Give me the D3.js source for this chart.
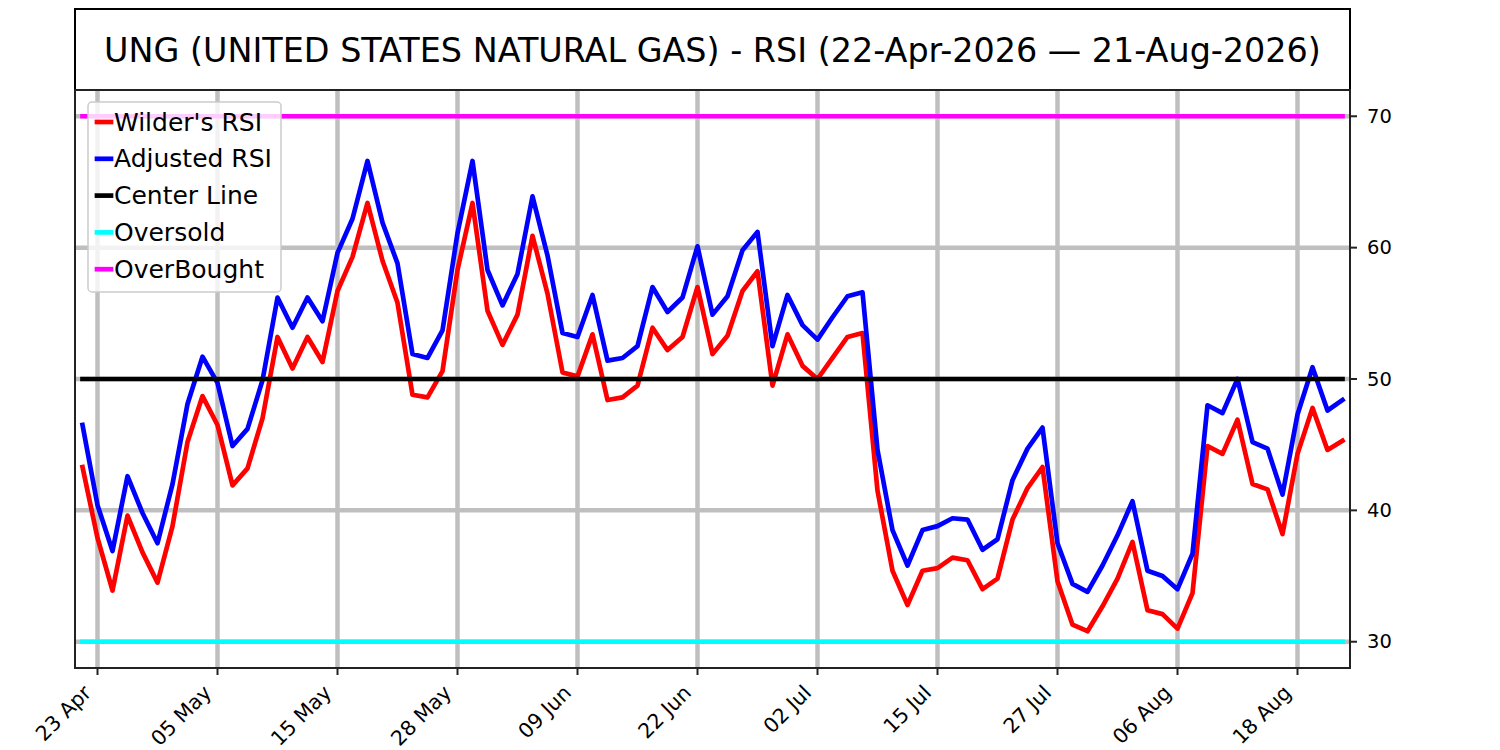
<!DOCTYPE html>
<html>
<head>
<meta charset="utf-8">
<script src="https://cdn.jsdelivr.net/npm/d3@7"></script>
<style>
  body { margin: 0; background: #fff; }
  text { font-family: "DejaVu Sans", sans-serif; }
</style>
</head>
<body>
<div id="chart"></div>
<script>
// trading days shown on the chart
var dates = [
  "2026-04-22","2026-04-23","2026-04-24","2026-04-27","2026-04-28","2026-04-29","2026-04-30",
  "2026-05-01","2026-05-04","2026-05-05","2026-05-06","2026-05-07","2026-05-08","2026-05-11",
  "2026-05-12","2026-05-13","2026-05-14","2026-05-15","2026-05-18","2026-05-19","2026-05-20",
  "2026-05-21","2026-05-22","2026-05-26","2026-05-27","2026-05-28","2026-05-29",
  "2026-06-01","2026-06-02","2026-06-03","2026-06-04","2026-06-05","2026-06-08","2026-06-09",
  "2026-06-10","2026-06-11","2026-06-12","2026-06-15","2026-06-16","2026-06-17","2026-06-18",
  "2026-06-22","2026-06-23","2026-06-24","2026-06-25","2026-06-26","2026-06-29","2026-06-30",
  "2026-07-01","2026-07-02","2026-07-06","2026-07-07","2026-07-08","2026-07-09","2026-07-10",
  "2026-07-13","2026-07-14","2026-07-15","2026-07-16","2026-07-17","2026-07-20","2026-07-21",
  "2026-07-22","2026-07-23","2026-07-24","2026-07-27","2026-07-28","2026-07-29","2026-07-30",
  "2026-07-31","2026-08-03","2026-08-04","2026-08-05","2026-08-06","2026-08-07","2026-08-10",
  "2026-08-11","2026-08-12","2026-08-13","2026-08-14","2026-08-17","2026-08-18","2026-08-19",
  "2026-08-20","2026-08-21"
];

var wilderRsi = [
  43.3,37.9,33.9,39.6,36.8,34.5,38.8,45.2,48.7,46.5,
  41.9,43.2,47.0,53.2,50.8,53.2,51.3,56.7,59.3,63.4,
  59.0,55.8,48.8,48.6,50.6,58.3,63.4,55.2,52.6,54.9,
  60.9,56.5,50.5,50.2,53.4,48.4,48.6,49.5,53.9,52.2,
  53.2,57.0,51.9,53.3,56.7,58.2,49.5,53.4,51.0,50.0,
  51.6,53.2,53.5,41.5,35.4,32.8,35.4,35.6,36.4,36.2,
  34.0,34.8,39.3,41.7,43.3,34.6,31.3,30.8,32.7,34.8,
  37.6,32.4,32.1,31.0,33.7,44.9,44.3,46.9,42.0,41.6,
  38.2,44.3,47.8,44.6,45.3
];

var adjustedRsi = [
  46.5,40.4,36.9,42.6,39.8,37.5,42.0,48.1,51.7,49.7,
  44.9,46.2,49.9,56.2,53.9,56.2,54.4,59.6,62.2,66.6,
  61.9,58.8,51.9,51.6,53.7,61.1,66.6,58.3,55.6,58.0,
  63.9,59.4,53.5,53.2,56.4,51.4,51.6,52.5,57.0,55.1,
  56.2,60.1,54.9,56.3,59.8,61.2,52.5,56.4,54.1,53.0,
  54.7,56.3,56.6,44.6,38.5,35.8,38.5,38.8,39.4,39.3,
  37.0,37.8,42.3,44.7,46.3,37.5,34.4,33.8,35.8,38.1,
  40.7,35.4,35.0,34.0,36.7,48.0,47.4,50.0,45.2,44.7,
  41.2,47.3,50.9,47.6,48.4
];

var centerLevel = 50;
var oversoldLevel = 30;
var overboughtLevel = 70;
var yTicks = [30, 40, 50, 60, 70];
var tickEvery = 8, firstTick = 1;

var legendNames = ["Wilder's RSI", "Adjusted RSI", "Center Line", "Oversold", "OverBought"];
var legendColors = ["#ff0000", "#0000ff", "#000000", "#00ffff", "#ff00ff"];

var title = "UNG (UNITED STATES NATURAL GAS) - RSI (22-Apr-2026 \u2014 21-Aug-2026)";

function drawChart() {
  var W = 1500, H = 750;
  var left = 75, right = 1350, top = 90, bottom = 668;

  var svg = d3.select("#chart").append("svg")
    .attr("width", W).attr("height", H);

  var parse = d3.timeParse("%Y-%m-%d");
  var fmt = d3.timeFormat("%d %b");

  var x = d3.scaleLinear().domain([-0.5, dates.length - 0.5]).range([left, right]);
  var y = d3.scaleLinear().domain([28, 72]).range([bottom, top]);

  var tickIdx = d3.range(firstTick, dates.length, tickEvery);

  // title box
  svg.append("rect")
    .attr("x", left).attr("y", 9)
    .attr("width", right - left).attr("height", top - 9)
    .attr("fill", "#fff").attr("stroke", "#000").attr("stroke-width", 2);
  svg.append("text")
    .attr("x", (left + right) / 2).attr("y", 50)
    .attr("text-anchor", "middle").attr("dominant-baseline", "central")
    .style("font-size", "33.4px").text(title);

  var plot = svg.append("g");

  // grid
  plot.selectAll(".vgrid").data(tickIdx).enter().append("line")
    .attr("x1", function (d) { return x(d); }).attr("x2", function (d) { return x(d); })
    .attr("y1", top).attr("y2", bottom)
    .attr("stroke", "#bfbfbf").attr("stroke-width", 4.5);
  plot.selectAll(".hgrid").data(yTicks).enter().append("line")
    .attr("x1", left).attr("x2", right)
    .attr("y1", function (d) { return y(d); }).attr("y2", function (d) { return y(d); })
    .attr("stroke", "#bfbfbf").attr("stroke-width", 4.5);

  var line = d3.line()
    .x(function (d, i) { return x(i); })
    .y(function (d) { return y(d); });

  [wilderRsi, adjustedRsi].forEach(function (s, k) {
    plot.append("path").datum(s)
      .attr("d", line)
      .attr("fill", "none")
      .attr("stroke", legendColors[k])
      .attr("stroke-width", 4.7)
      .attr("stroke-linejoin", "round")
      .attr("stroke-linecap", "square");
  });

  [centerLevel, oversoldLevel, overboughtLevel].forEach(function (lv, k) {
    plot.append("line")
      .attr("x1", x(0)).attr("x2", x(dates.length - 1))
      .attr("y1", y(lv)).attr("y2", y(lv))
      .attr("stroke", legendColors[k + 2])
      .attr("stroke-width", 4.7)
      .attr("stroke-linecap", "square");
  });

  // frame
  svg.append("rect")
    .attr("x", left).attr("y", top)
    .attr("width", right - left).attr("height", bottom - top)
    .attr("fill", "none").attr("stroke", "#222").attr("stroke-width", 2);

  // right y axis
  var yAxis = svg.append("g").attr("transform", "translate(" + right + ",0)");
  yAxis.selectAll("line").data(yTicks).enter().append("line")
    .attr("x1", 0).attr("x2", 7)
    .attr("y1", function (d) { return y(d); }).attr("y2", function (d) { return y(d); })
    .attr("stroke", "#222").attr("stroke-width", 2);
  yAxis.selectAll("text").data(yTicks).enter().append("text")
    .attr("x", 17).attr("y", function (d) { return y(d); })
    .attr("dominant-baseline", "central")
    .style("font-size", "19.5px")
    .text(function (d) { return d; });

  // bottom x axis
  var xAxis = svg.append("g").attr("transform", "translate(0," + bottom + ")");
  xAxis.selectAll("line").data(tickIdx).enter().append("line")
    .attr("x1", function (d) { return x(d); }).attr("x2", function (d) { return x(d); })
    .attr("y1", 0).attr("y2", 7)
    .attr("stroke", "#222").attr("stroke-width", 2);
  xAxis.selectAll("text").data(tickIdx).enter().append("text")
    .attr("transform", function (d) {
      return "translate(" + (x(d) - 5) + ",26) rotate(-45)";
    })
    .attr("text-anchor", "end")
    .style("font-size", "20.5px")
    .text(function (d) { return fmt(parse(dates[d])); });

  // legend
  var lg = svg.append("g");
  lg.append("rect")
    .attr("x", 88).attr("y", 102).attr("width", 193).attr("height", 190)
    .attr("rx", 4).attr("ry", 4)
    .attr("fill", "#fff").attr("fill-opacity", 0.8)
    .attr("stroke", "#cccccc").attr("stroke-width", 1.5);
  var rows = lg.selectAll(".row").data(legendNames).enter().append("g")
    .attr("transform", function (d, i) { return "translate(0," + (122 + i * 36.8) + ")"; });
  rows.append("line")
    .attr("x1", 97).attr("x2", 111)
    .attr("stroke", function (d, i) { return legendColors[i]; })
    .attr("stroke-width", 4.7).attr("stroke-linecap", "square");
  rows.append("text")
    .attr("x", 114).attr("dominant-baseline", "central")
    .style("font-size", "25px")
    .text(function (d) { return d; });
}

drawChart();
</script>
</body>
</html>
